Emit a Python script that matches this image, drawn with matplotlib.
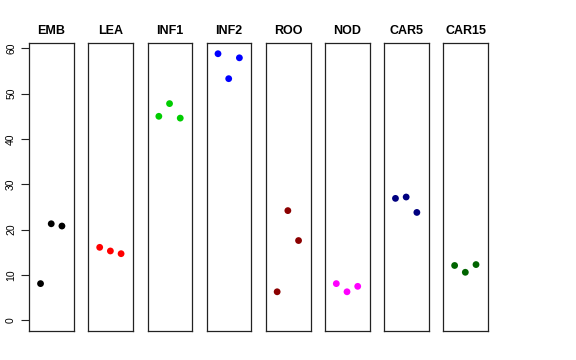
import matplotlib
matplotlib.use("Agg")
import matplotlib.pyplot as plt

plt.rcParams['font.family'] = ['Liberation Sans', 'DejaVu Sans']

groups = ["EMB", "LEA", "INF1", "INF2", "ROO", "NOD", "CAR5", "CAR15"]
colors = ["black", "red", "#00CD00", "blue", "#8B0000", "magenta", "#000080", "#006400"]
rep_x = [1, 2, 3]
values = {
    "EMB": [8.1, 21.3, 20.8],
    "LEA": [16.1, 15.3, 14.7],
    "INF1": [45.0, 47.8, 44.6],
    "INF2": [58.8, 53.3, 57.9],
    "ROO": [6.3, 24.2, 17.6],
    "NOD": [8.1, 6.3, 7.5],
    "CAR5": [26.9, 27.2, 23.8],
    "CAR15": [12.1, 10.6, 12.3],
}
yticks = [0, 10, 20, 30, 40, 50, 60]

fig, axes = plt.subplots(1, len(groups), sharey=True, figsize=(5.76, 3.6), dpi=100)
fig.subplots_adjust(left=29.3 / 576, right=488 / 576, bottom=1 - 331 / 360,
                    top=1 - 43.3 / 360, wspace=0.326)

for i, (ax, g, c) in enumerate(zip(axes, groups, colors)):
    ax.scatter(rep_x, values[g], s=24, color=c, edgecolors='none', zorder=3)
    ax.set_xlim(-0.05, 4.12)
    ax.set_ylim(-2.35, 61.1)
    ax.set_xticks([])
    ax.set_title(g, fontsize=9, fontweight='bold', pad=6.5)
    for sp in ax.spines.values():
        sp.set_color('#222222')
        sp.set_linewidth(0.9)
    if i == 0:
        ax.set_yticks(yticks)
        ax.tick_params(axis='y', length=5.5, width=0.8, color='#222222',
                       labelsize=7.5, pad=4)
        for lab in ax.get_yticklabels():
            lab.set_rotation(90)
            lab.set_va('center')
    else:
        ax.tick_params(axis='y', left=False, labelleft=False)

fig.savefig("out.png", dpi=100)
